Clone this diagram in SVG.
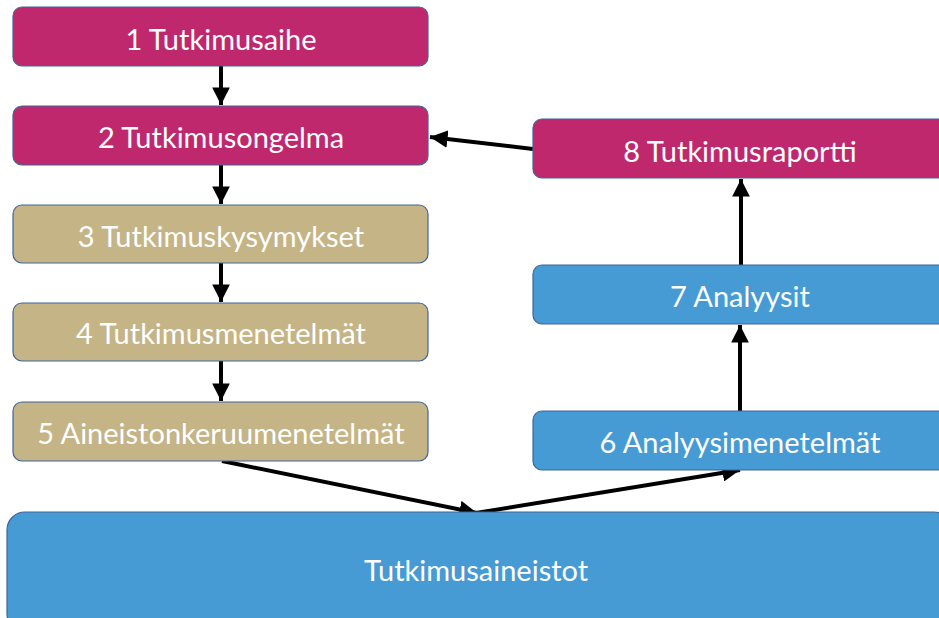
<svg xmlns="http://www.w3.org/2000/svg" width="939" height="618" viewBox="0 0 939 618">
<defs>
<style>
.box{stroke:#3F659B;stroke-width:1.2}
.mag{fill:#C0286E}
.tan{fill:#C5B485}
.blu{fill:#469BD5}
.t{fill:#fff;font-family:Lato,"Open Sans","Liberation Sans",sans-serif;font-size:29px;text-anchor:middle;dominant-baseline:central}
.c{stroke:#000;stroke-width:4;fill:none}
</style>
<marker id="ah" viewBox="0 0 10 10" refX="10" refY="5" markerWidth="4.4" markerHeight="4.4" orient="auto" markerUnits="strokeWidth">
<path d="M0,0 L10,5 L0,10 z" fill="#000"/>
</marker>
</defs>
<rect width="939" height="618" fill="#fff"/>
<g id="connectors">
<line class="c" x1="221" y1="66" x2="221" y2="105" marker-end="url(#ah)"/>
<line class="c" x1="221" y1="165" x2="221" y2="204" marker-end="url(#ah)"/>
<line class="c" x1="221" y1="263" x2="221" y2="302" marker-end="url(#ah)"/>
<line class="c" x1="221" y1="361" x2="221" y2="401" marker-end="url(#ah)"/>
<line class="c" x1="533" y1="149" x2="430" y2="137" marker-end="url(#ah)"/>
<line class="c" x1="741" y1="265" x2="741" y2="179" marker-end="url(#ah)"/>
<line class="c" x1="740" y1="411" x2="740" y2="325" marker-end="url(#ah)"/>
<line class="c" x1="222" y1="461" x2="477" y2="513" marker-end="url(#ah)"/>
<line class="c" x1="476" y1="513" x2="740" y2="470" marker-end="url(#ah)"/>
</g>
<g id="n1"><rect class="box mag" x="13" y="7" width="415" height="59" rx="9"/><text class="t" x="221" y="38">1 Tutkimusaihe</text></g>
<g id="n2"><rect class="box mag" x="13" y="106" width="415" height="59" rx="9"/><text class="t" x="221" y="136">2 Tutkimusongelma</text></g>
<g id="n3"><rect class="box tan" x="13" y="205" width="415" height="58" rx="9"/><text class="t" x="221" y="235">3 Tutkimuskysymykset</text></g>
<g id="n4"><rect class="box tan" x="13" y="303" width="415" height="58" rx="9"/><text class="t" x="221" y="332">4 Tutkimusmenetelmät</text></g>
<g id="n5"><rect class="box tan" x="13" y="402" width="415" height="59" rx="9"/><text class="t" x="221" y="432">5 Aineistonkeruumenetelmät</text></g>
<g id="n8"><rect class="box mag" x="533" y="119" width="420" height="59" rx="9"/><text class="t" x="740" y="150">8 Tutkimusraportti</text></g>
<g id="n7"><rect class="box blu" x="533" y="265" width="420" height="59" rx="9"/><text class="t" x="740" y="295">7 Analyysit</text></g>
<g id="n6"><rect class="box blu" x="533" y="411" width="420" height="59" rx="9"/><text class="t" x="740" y="441">6 Analyysimenetelmät</text></g>
<g id="n9"><rect class="box blu" x="7" y="512" width="945" height="120" rx="18"/><text class="t" x="476" y="569">Tutkimusaineistot</text></g>
</svg>
